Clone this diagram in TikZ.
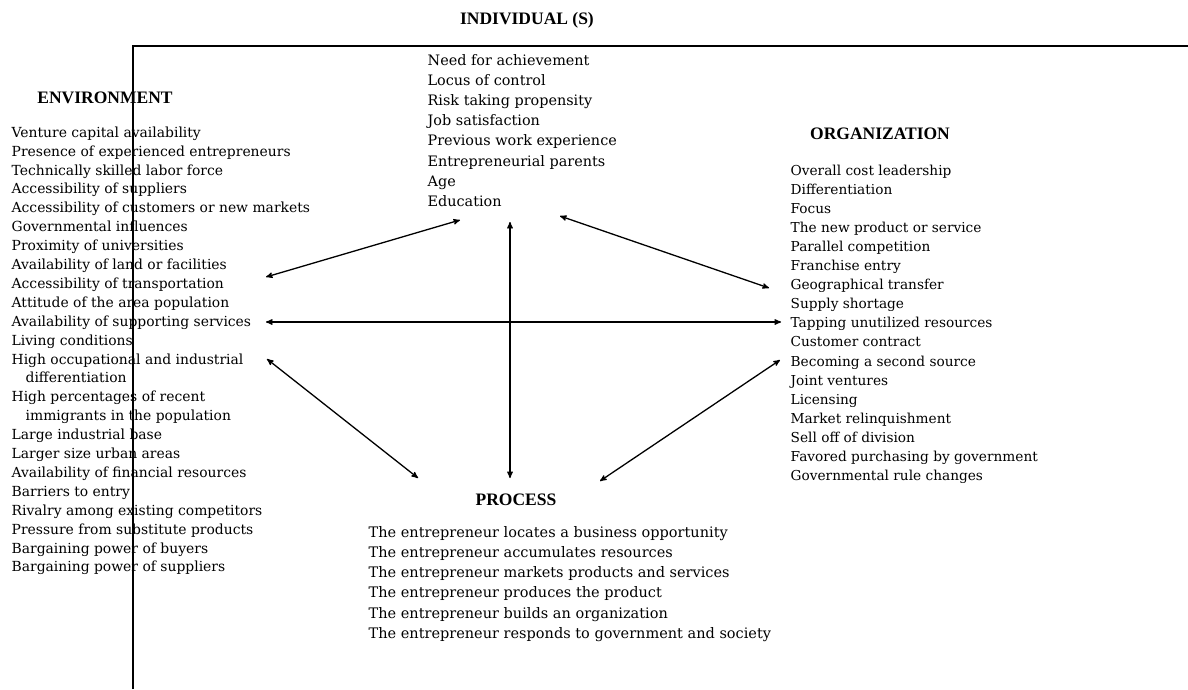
\documentclass[tikz,border=0pt]{standalone}
\usepackage{fontspec}
\setmainfont{DejaVu Serif}
\newfontfamily\headfont{Liberation Serif}
\usepackage{tikz}
\usetikzlibrary{arrows}
\tikzset{
hd/.style={
  font=\headfont\bfseries\fontsize{17.5}{20}\selectfont,
  inner sep=0pt
  },
lst/.style={
  anchor=north west,
  align=left,
  inner sep=0pt
  }
}

\begin{document}
\begin{tikzpicture}[x=1pt,y=-1pt,>=stealth',line width=1.3pt]
        \useasboundingbox (0,0) rectangle (1188,689);
        % frame lines
        \draw[line width=1.5pt] (133,689) |- (1188,46);
        % headings
        \node[hd] at (527,20) (ind) {INDIVIDUAL (S)};
        \node[hd] at (105,98) (env) {ENVIRONMENT};
        \node[hd] at (880,134) (org) {ORGANIZATION};
        \node[hd] at (516,500) (pro) {PROCESS};
        % lists
        \node[lst,font=\fontsize{14.4}{20.1}\selectfont] at (427,54) (indl) {Need for achievement\\
            Locus of control\\
            Risk taking propensity\\
            Job satisfaction\\
            Previous work experience\\
            Entrepreneurial parents\\
            Age\\
            Education};
        \node[lst,font=\fontsize{13.9}{18.9}\selectfont] at (11,126) (envl) {Venture capital availability\\
            Presence of experienced entrepreneurs\\
            Technically skilled labor force\\
            Accessibility of suppliers\\
            Accessibility of customers or new markets\\
            Governmental influences\\
            Proximity of universities\\
            Availability of land or facilities\\
            Accessibility of transportation\\
            Attitude of the area population\\
            Availability of supporting services\\
            Living conditions\\
            High occupational and industrial\\
            \hspace*{14pt}differentiation\\
            High percentages of recent\\
            \hspace*{14pt}immigrants in the population\\
            Large industrial base\\
            Larger size urban areas\\
            Availability of financial resources\\
            Barriers to entry\\
            Rivalry among existing competitors\\
            Pressure from substitute products\\
            Bargaining power of buyers\\
            Bargaining power of suppliers};
        \node[lst,font=\fontsize{13.7}{19.1}\selectfont] at (790,164) (orgl) {Overall cost leadership\\
            Differentiation\\
            Focus\\
            The new product or service\\
            Parallel competition\\
            Franchise entry\\
            Geographical transfer\\
            Supply shortage\\
            Tapping unutilized resources\\
            Customer contract\\
            Becoming a second source\\
            Joint ventures\\
            Licensing\\
            Market relinquishment\\
            Sell off of division\\
            Favored purchasing by government\\
            Governmental rule changes};
        \node[lst,font=\fontsize{14.5}{20.1}\selectfont] at (368,526) (prol) {The entrepreneur locates a business opportunity\\
            The entrepreneur accumulates resources\\
            The entrepreneur markets products and services\\
            The entrepreneur produces the product\\
            The entrepreneur builds an organization\\
            The entrepreneur responds to government and society};
        % arrow ends
        \coordinate (e1) at (266,277);
        \coordinate (e2) at (266,322);
        \coordinate (e3) at (267,359);
        \coordinate (i1) at (460,220);
        \coordinate (i2) at (510,222);
        \coordinate (i3) at (560,216);
        \coordinate (o1) at (769,288);
        \coordinate (o2) at (781,322);
        \coordinate (o3) at (780,360);
        \coordinate (p1) at (418,478);
        \coordinate (p2) at (510,478);
        \coordinate (p3) at (600,481);
        \path[<->]
        (e1) edge [] (i1)
        (i3) edge [] (o1)
        (e2) edge [] (o2)
        (i2) edge [] (p2)
        (e3) edge [] (p1)
        (o3) edge [] (p3)
        ;
    \end{tikzpicture}
\end{document}
